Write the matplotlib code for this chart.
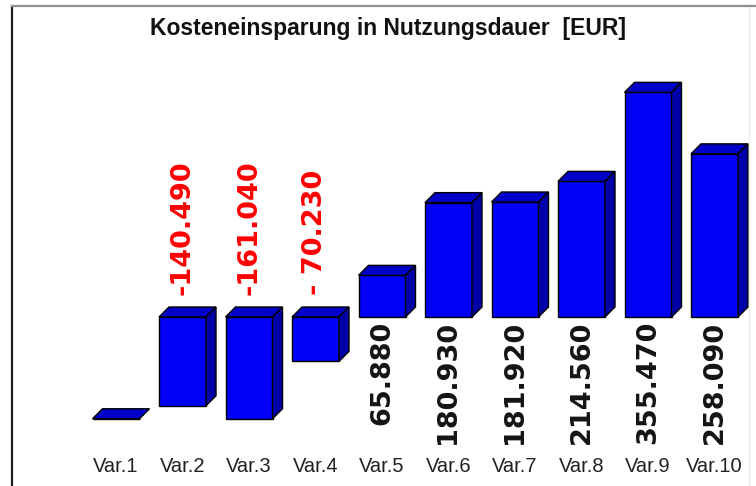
import matplotlib.pyplot as plt
from matplotlib.patches import Polygon
from matplotlib.lines import Line2D

### Kostenvergleich der Varianten (EUR)
categories = ['Var.1', 'Var.2', 'Var.3', 'Var.4', 'Var.5',
              'Var.6', 'Var.7', 'Var.8', 'Var.9', 'Var.10']
savings = [0, -140490, -161040, -70230, 65880,
           180930, 181920, 214560, 355470, 258090]
title = 'Kosteneinsparung in Nutzungsdauer  [EUR]'

W, H = 756, 486
fig = plt.figure(figsize=(W / 100, H / 100), dpi=100)
ax = fig.add_axes([0, 0, 1, 1])

# pixel scale: 66.5 px per bar slot, 0.632 px per 1000 EUR, zero line at 317 px
px_x = 1 / 66.5
px_y = 1000 / 0.632
ax.set_xlim(-116 * px_x, (W - 116) * px_x)
ax.set_ylim(-(H - 317) * px_y, 317 * px_y)
ax.axis('off')

bar_w = 47 * px_x
dx, dy = 10 * px_x, 10 * px_y
floor = min(savings)

front_col = '#0000f8'
top_col = '#0000c8'
side_col = '#0000a8'

for i, v in enumerate(savings):
    if v == 0:
        lo, hi = floor, floor
    else:
        lo, hi = min(v, 0), max(v, 0)
    x0 = i - bar_w / 2
    x1 = i + bar_w / 2
    # front face
    ax.bar(i, hi - lo, bottom=lo, width=bar_w, color=front_col,
           edgecolor='black', linewidth=1, zorder=2)
    # top face
    ax.add_patch(Polygon([(x0, hi), (x1, hi), (x1 + dx, hi + dy), (x0 + dx, hi + dy)],
                         closed=True, facecolor=top_col, edgecolor='black',
                         linewidth=1, zorder=2))
    # side face
    if hi > lo:
        ax.add_patch(Polygon([(x1, lo), (x1 + dx, lo + dy), (x1 + dx, hi + dy), (x1, hi)],
                             closed=True, facecolor=side_col, edgecolor='black',
                             linewidth=1, zorder=2))

    # value labels
    if v < 0:
        txt = '-' + f'{abs(v):,}'.replace(',', '.').rjust(7)
        ax.text(i, dy + 12 * px_y, txt, rotation=90, ha='center', va='bottom',
                color='#ff0000', fontsize=19.5, fontweight='heavy',
                family='DejaVu Sans', zorder=3)
    elif v > 0:
        txt = f'{v:,}'.replace(',', '.')
        ax.text(i, -4 * px_y, txt, rotation=90, ha='center', va='top',
                color='#141414', fontsize=19.5, fontweight='heavy',
                family='DejaVu Sans', zorder=3)

    # category labels
    ax.text(i, -(466 - 317) * px_y, categories[i], ha='center', va='center',
            fontsize=14.5, color='#222222', family='Liberation Sans')

fig.text(387.5 / W, 1 - 28 / H, title, ha='center', va='center',
         fontsize=16.5, fontweight='bold', family='Liberation Sans', color='#111111')

# frame
fig.add_artist(Line2D([12 / W, 12 / W], [0, 1 - 6 / H], color='#202020', linewidth=1.6))
fig.add_artist(Line2D([12 / W, 1], [1 - 6 / H, 1 - 6 / H], color='#909090', linewidth=1.6))
fig.add_artist(Line2D([749 / W, 749 / W], [0, 1 - 8 / H], color='#ececec', linewidth=1))

fig.savefig('out.png', dpi=100)
